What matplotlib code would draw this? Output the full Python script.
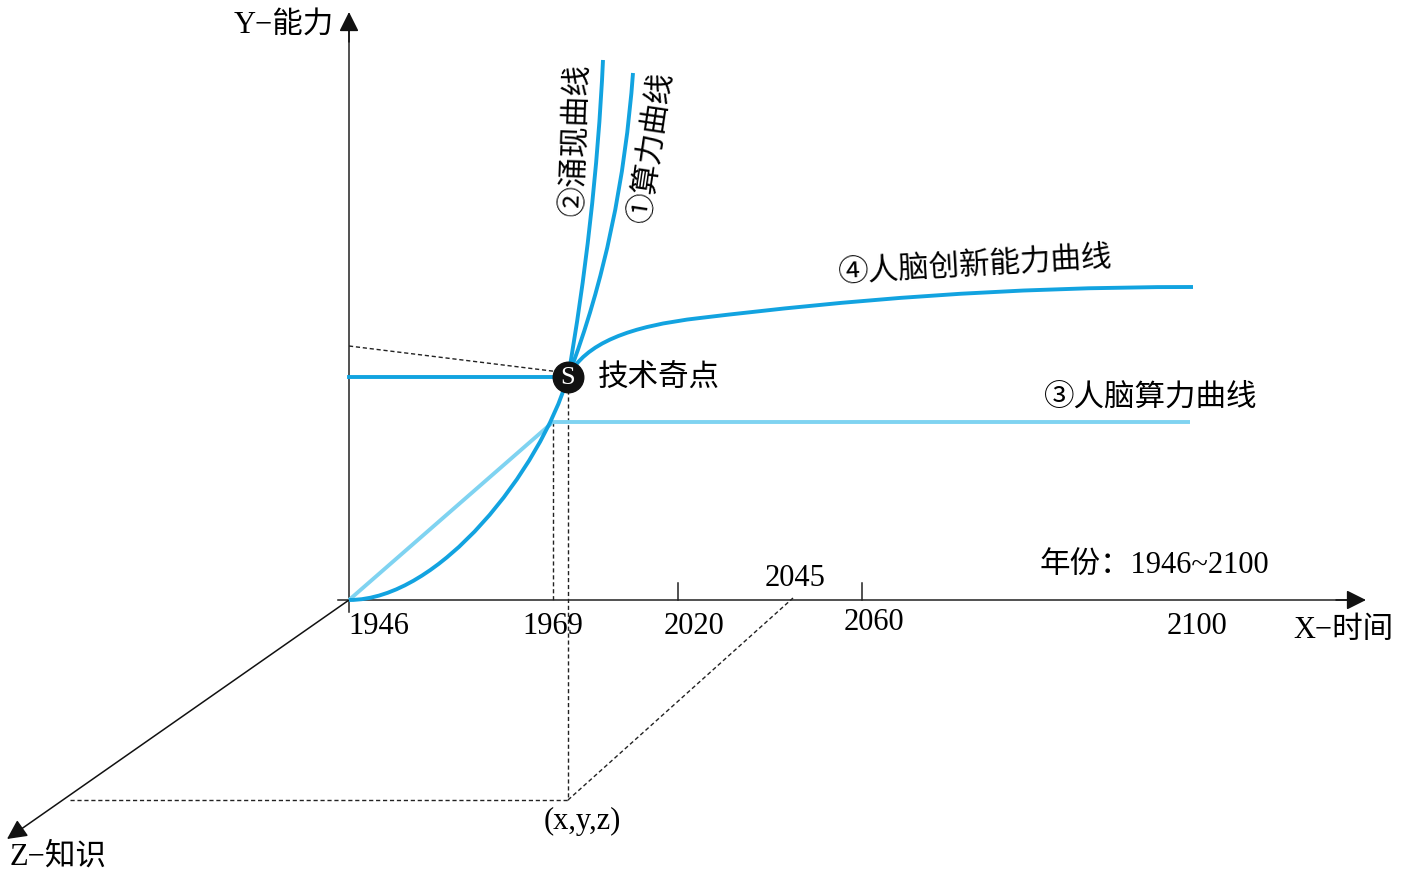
import matplotlib
matplotlib.use("Agg")
import matplotlib.pyplot as plt
from matplotlib.path import Path
from matplotlib.patches import PathPatch

# 字体：数字用衬线，中文回退到 CJK
FONT = ["Liberation Serif", "Noto Sans CJK SC"]
CJK = ["Noto Sans CJK SC", "Liberation Serif"]

DARK = "#12a3e0"
LIGHT = "#7fd3f1"

# ── 示意图坐标（按图片像素读取，y 向下） ─────────────────
ORIGIN = (349, 600)
X_TIP = (1366, 600)
Y_TIP = (349, 12)
Z_TIP = (7, 839)

tick_years = ["1946", "1969", "2020", "2045", "2060", "2100"]
tick_pos = [348, 553, 694, 795, 874, 1197]
tick_lab_y = [627, 627, 627, 579, 623, 627]
tick_marks = [678, 862]

# 曲线用三次贝塞尔控制点描述（起点, 控制1, 控制2, 终点）
# 基础曲线（原点到奇点 S）
base_ctrl = [(349, 600), (440, 600), (540, 470), (568, 377)]
# ② 涌现曲线
emerge_ctrl = [(568, 377), (585, 280), (598, 170), (603, 60)]
# ① 算力曲线
compute_ctrl = [(568, 377), (605, 280), (625, 180), (633, 73)]
# ④ 人脑创新能力曲线（两段）
innov_ctrl = [(568, 377), (585, 343), (630, 326), (700, 318),
              (850, 300), (1000, 287), (1193, 287)]

# ③ 人脑算力曲线
brain_x = [349, 553, 1190]
brain_y = [600, 422, 422]

S_POINT = (568, 377)
XYZ_POINT = (568, 800)

fig = plt.figure(figsize=(14.02, 8.83), dpi=100)
ax = fig.add_axes([0, 0, 1, 1])
ax.set_xlim(0, 1402)
ax.set_ylim(883, 0)
ax.axis("off")


def bezier(pts, color, z=4):
    codes = [Path.MOVETO] + [Path.CURVE4] * (len(pts) - 1)
    ax.add_patch(PathPatch(Path(pts, codes), fill=False, edgecolor=color,
                           lw=2.8, capstyle="butt", zorder=z))


# ── 坐标轴 ──
ax.plot([338, X_TIP[0] - 10], [ORIGIN[1], ORIGIN[1]], color="#222", lw=1.1, zorder=2)
ax.plot([ORIGIN[0], ORIGIN[0]], [612, Y_TIP[1] + 10], color="#222", lw=1.1, zorder=2)
arrow = dict(arrowstyle="-|>", mutation_scale=30, lw=1.1, color="#111",
             shrinkA=0, shrinkB=0)
ax.annotate("", xy=X_TIP, xytext=(X_TIP[0] - 30, X_TIP[1]), arrowprops=arrow)
ax.annotate("", xy=Y_TIP, xytext=(Y_TIP[0], Y_TIP[1] + 30), arrowprops=arrow)
ax.annotate("", xy=Z_TIP, xytext=ORIGIN, arrowprops=arrow)
for tx in tick_marks:
    ax.plot([tx, tx], [583, ORIGIN[1]], color="#222", lw=1.1)

# ── 虚线 ──
dash = dict(color="#222", lw=1.0, ls=(0, (3, 2)), zorder=1)
ax.plot([ORIGIN[0], S_POINT[0]], [346, S_POINT[1] - 4], **dash)
ax.plot([553, 553], [422, 600], **dash)
ax.plot([568, 568], [390, XYZ_POINT[1]], **dash)
ax.plot([70, XYZ_POINT[0]], [XYZ_POINT[1], XYZ_POINT[1]], **dash)
ax.plot([XYZ_POINT[0], 793], [XYZ_POINT[1], 598], **dash)

# ── 曲线 ──
ax.plot(brain_x, brain_y, color=LIGHT, lw=2.8, solid_capstyle="butt", zorder=3)
ax.plot([ORIGIN[0], S_POINT[0]], [S_POINT[1], S_POINT[1]], color=DARK, lw=2.8, zorder=3)
bezier(base_ctrl, DARK)
bezier(emerge_ctrl, DARK)
bezier(compute_ctrl, DARK)
bezier(innov_ctrl, DARK)

# 奇点 S
ax.plot(*S_POINT, "o", ms=22, color="#111", zorder=6)
ax.text(S_POINT[0], S_POINT[1] + 1, "S", color="white", fontsize=19,
        family=FONT, ha="center", va="center", zorder=7)

# ── 文字 ──
fs = 22
ax.text(334, 25, "Y−能力", fontsize=fs, family=FONT, ha="right", va="center")
ax.text(1293, 630, "X−时间", fontsize=fs, family=FONT, ha="left", va="center")
ax.text(10, 857, "Z−知识", fontsize=fs, family=FONT, ha="left", va="center")
for lab, px, py in zip(tick_years, tick_pos, tick_lab_y):
    ax.text(px, py, lab, fontsize=fs, family=FONT,
            ha="left" if lab == "1946" else "center", va="center")
ax.text(582, 821, "(x,y,z)", fontsize=fs, family=FONT, ha="center", va="center")
ax.text(1154, 565, "年份：1946~2100", fontsize=fs, family=FONT, ha="center", va="center")
ax.text(659, 377, "技术奇点", fontsize=fs, family=CJK, ha="center", va="center")
ax.text(1151, 397, "③人脑算力曲线", fontsize=fs, family=CJK, ha="center", va="center")
ax.text(975, 265, "④人脑创新能力曲线", fontsize=fs, family=CJK, ha="center",
        va="center", rotation=3.3, rotation_mode="anchor")
ax.text(575, 139, "②涌现曲线", fontsize=fs, family=CJK, ha="center",
        va="center", rotation=88, rotation_mode="anchor")
ax.text(652, 147, "①算力曲线", fontsize=fs, family=CJK, ha="center",
        va="center", rotation=81.5, rotation_mode="anchor")

fig.savefig("out.png", dpi=100, facecolor="white")
